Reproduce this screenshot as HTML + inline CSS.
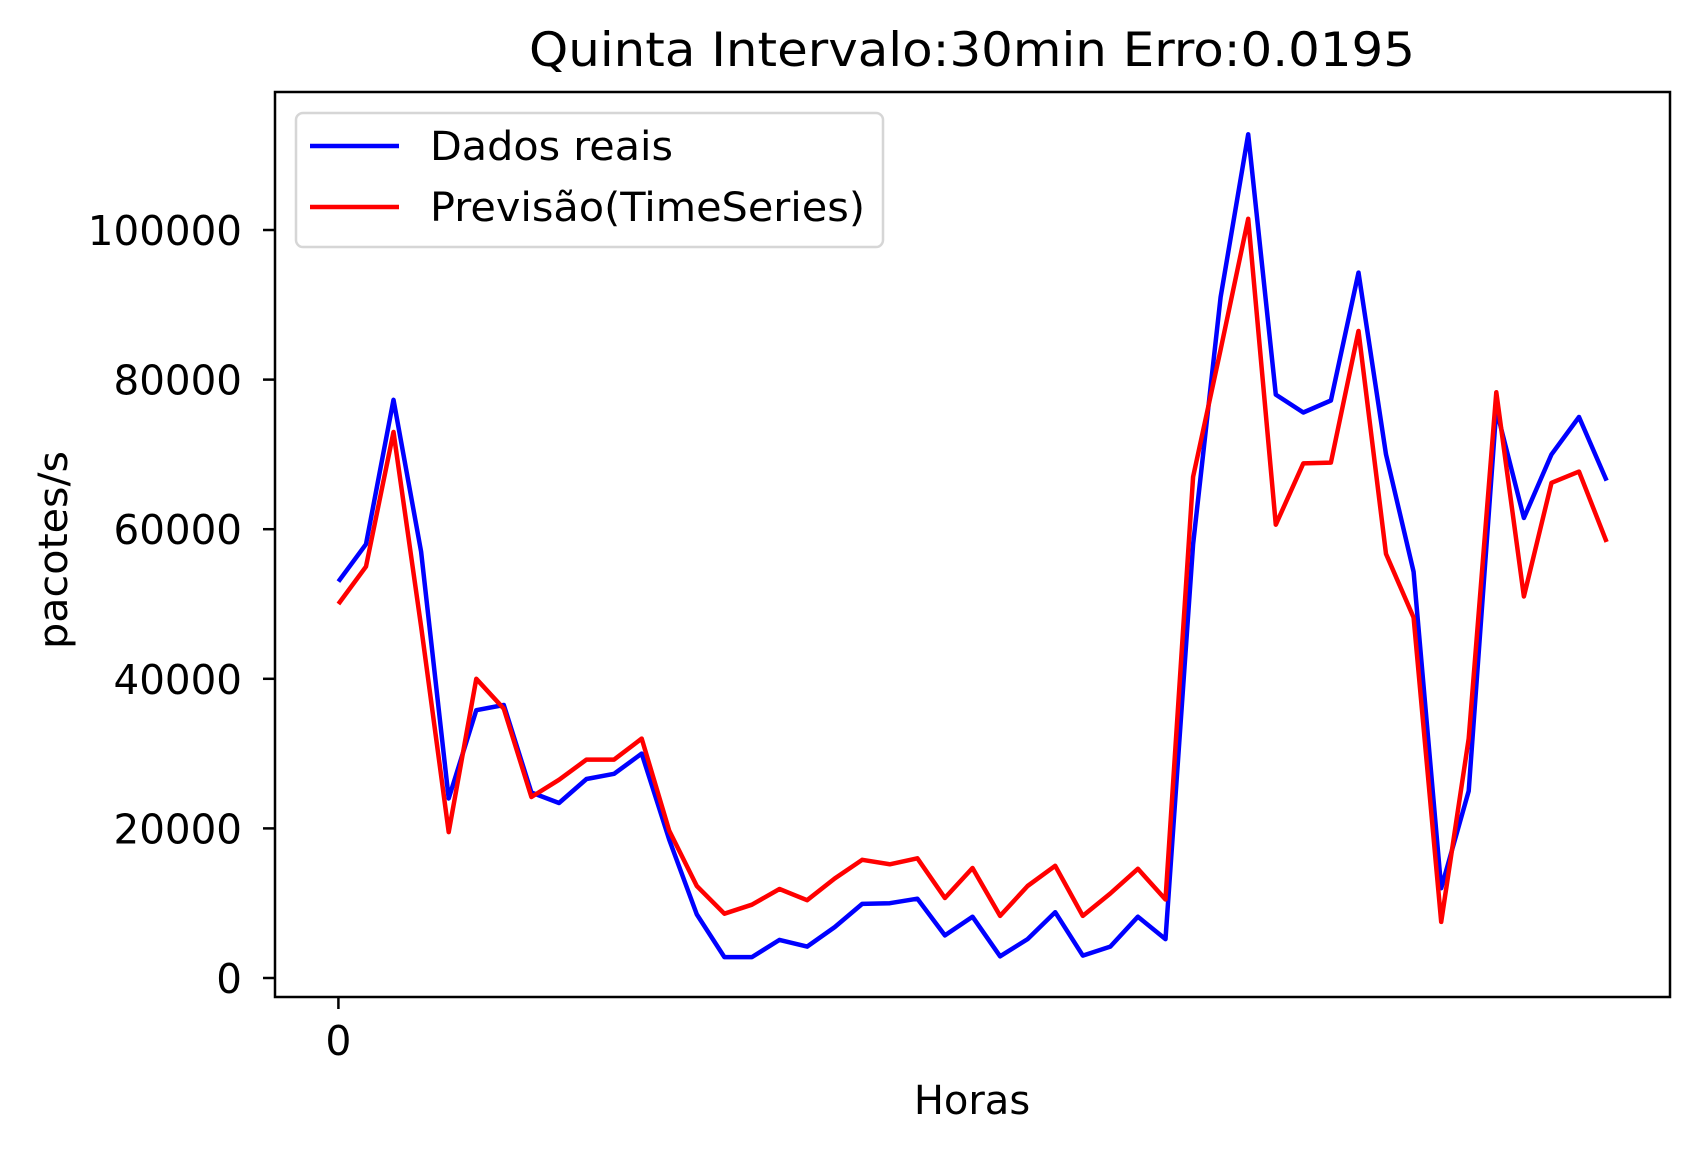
<!DOCTYPE html>
<html><head><meta charset="utf-8"><style>html,body{margin:0;padding:0;background:#fff}svg{display:block}</style></head>
<body>
<svg id="chart" width="1699" height="1154" viewBox="0 0 1699 1154" xmlns="http://www.w3.org/2000/svg" font-family="DejaVu Sans, Liberation Sans, sans-serif">
<rect width="1699" height="1154" fill="#fff"/>
<text x="972" y="66" font-size="47" text-anchor="middle" textLength="886" lengthAdjust="spacingAndGlyphs">Quinta Intervalo:30min Erro:0.0195</text>
<g id="plot"></g>
<g id="yticks"></g>
<g id="xticks"></g>
<rect x="275" y="92" width="1395" height="905" fill="none" stroke="#000" stroke-width="2.5"/>
<text x="972" y="1114" font-size="40" text-anchor="middle">Horas</text>
<text x="0" y="0" font-size="40" text-anchor="middle" transform="translate(67,550) rotate(-90)" textLength="198" lengthAdjust="spacingAndGlyphs">pacotes/s</text>
<g>
<rect x="296" y="113" width="587" height="134" rx="7" fill="#fff" fill-opacity="0.8" stroke="#d6d6d6" stroke-width="2.5"/>
<line x1="310" y1="146" x2="399" y2="146" stroke="#0000ff" stroke-width="4.5"/>
<text x="430" y="160" font-size="40" textLength="243" lengthAdjust="spacingAndGlyphs">Dados reais</text>
<line x1="310" y1="207" x2="399" y2="207" stroke="#ff0000" stroke-width="4.5"/>
<text x="430" y="221" font-size="40" textLength="435" lengthAdjust="spacingAndGlyphs">Previsão(TimeSeries)</text>
</g>
</svg>
<script>
const realValues = [53000,58000,77300,57000,24000,35800,36500,24800,23400,26600,27300,30000,18500,8500,2800,2800,5100,4200,6800,9900,10000,10600,5700,8200,2900,5200,8800,3000,4200,8200,5200,58000,91000,112800,78000,75600,77200,94300,70000,54300,12000,25000,76000,61500,70000,75000,66500];
const forecastValues = [50000,55000,73000,47000,19500,40000,36000,24200,26500,29200,29200,32000,19700,12300,8600,9800,11900,10400,13300,15800,15200,16000,10700,14700,8300,12300,15000,8300,11300,14600,10500,67000,84000,101500,60600,68800,68900,86500,56700,48200,7500,32000,78300,51000,66200,67700,58300];
const yTickValues = [0,20000,40000,60000,80000,100000];
const xTickValues = [0];

const NS = 'http://www.w3.org/2000/svg';
const L = 275, R = 1670, T = 92, B = 997;
const xMin = -2.3, xMax = 48.3, yMin = -2540, yMax = 118450;
function xs(i){ return L + (i - xMin) / (xMax - xMin) * (R - L); }
function ys(v){ return B - (v - yMin) / (yMax - yMin) * (B - T); }

const plot = document.getElementById('plot');
function drawSeries(vals, color, name){
  const p = document.createElementNS(NS, 'polyline');
  p.setAttribute('points', vals.map((v,i)=>xs(i).toFixed(1)+','+ys(v).toFixed(1)).join(' '));
  p.setAttribute('fill','none');
  p.setAttribute('stroke',color);
  p.setAttribute('stroke-width','4.5');
  p.setAttribute('stroke-linejoin','round');
  
  
  plot.appendChild(p);
}
drawSeries(realValues, '#0000ff', 'real-data-line');
drawSeries(forecastValues, '#ff0000', 'forecast-line');

const yg = document.getElementById('yticks');
yTickValues.forEach(v=>{
  const y = ys(v);
  const ln = document.createElementNS(NS,'line');
  ln.setAttribute('x1',L-12); ln.setAttribute('x2',L); ln.setAttribute('y1',y); ln.setAttribute('y2',y);
  ln.setAttribute('stroke','#000'); ln.setAttribute('stroke-width','2.5');
  
  
  yg.appendChild(ln);
  const t = document.createElementNS(NS,'text');
  t.setAttribute('x', L-33); t.setAttribute('y', y+15);
  t.setAttribute('font-size','41'); t.setAttribute('text-anchor','end');
  t.setAttribute('textLength', String(v).length*25.7); t.setAttribute('lengthAdjust','spacingAndGlyphs');
  t.textContent = String(v);
  
  
  yg.appendChild(t);
});
const xg = document.getElementById('xticks');
xTickValues.forEach(v=>{
  const x = xs(v);
  const ln = document.createElementNS(NS,'line');
  ln.setAttribute('x1',x); ln.setAttribute('x2',x); ln.setAttribute('y1',B); ln.setAttribute('y2',B+12);
  ln.setAttribute('stroke','#000'); ln.setAttribute('stroke-width','2.5');
  
  
  xg.appendChild(ln);
  const t = document.createElementNS(NS,'text');
  t.setAttribute('x', x); t.setAttribute('y', B+58);
  t.setAttribute('font-size','41'); t.setAttribute('text-anchor','middle');
  t.textContent = String(v);
  
  
  xg.appendChild(t);
});
</script>
</body></html>
